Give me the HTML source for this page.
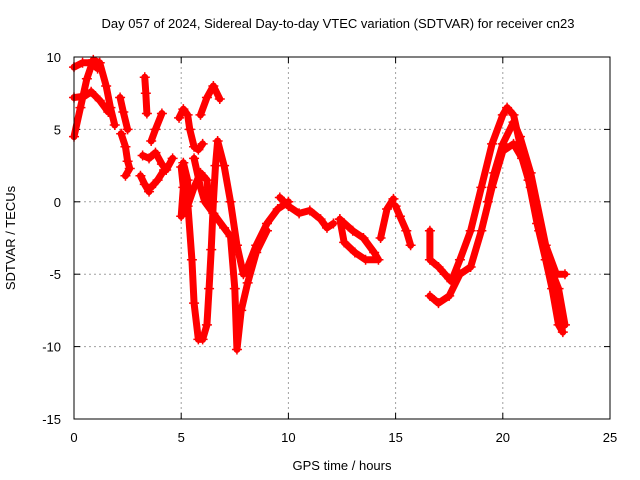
<!DOCTYPE html>
<html><head><meta charset="utf-8"><style>
body{margin:0;background:#fff}
svg{display:block;font-family:"Liberation Sans",sans-serif;font-size:13px}
</style></head><body>
<svg id="chart" width="640" height="480" xmlns="http://www.w3.org/2000/svg">
<text x="338" y="28" text-anchor="middle">Day 057 of 2024, Sidereal Day-to-day VTEC variation (SDTVAR) for receiver cn23</text>
<text x="342" y="470" text-anchor="middle">GPS time / hours</text>
<text transform="translate(15,238) rotate(-90)" text-anchor="middle">SDTVAR / TECUs</text>
<g id="grid"></g>
<g id="series"></g>
<rect x="74" y="57" width="536" height="362" fill="none" stroke="#000"/>
</svg>
<script>
const xTicks=[0,5,10,15,20,25];
const yTicks=[10,5,0,-5,-10,-15];
const traceA=[[0,4.5],[0.3,6.5],[0.6,8.5],[0.9,9.8],[1.2,9.6],[1.5,8],[1.7,6.5],[1.9,5.3]];
const traceB=[[0,7.2],[0.5,7.3],[0.8,7.6],[1.2,7],[1.6,6.2]];
const traceC=[[0,9.3],[0.4,9.6],[0.8,9.6],[1.1,9.2]];
const traceD=[[2.15,7.2],[2.3,6.2],[2.5,5]];
const traceE=[[2.2,4.7],[2.4,3.8],[2.5,2.8],[2.6,2.3],[2.4,1.8]];
const traceF=[[3.3,8.6],[3.35,7.5],[3.4,6.1]];
const traceG=[[3.6,4.2],[3.8,5],[4.1,6.1]];
const traceH=[[3.2,3.2],[3.5,3],[3.8,3.4],[4.1,2.6],[4.3,2.2],[4.6,3]];
const traceI=[[3.1,1.8],[3.3,1.2],[3.5,0.7]];
const traceJ=[[3.6,1],[3.9,1.5],[4.2,2.2]];
const traceK=[[4.9,5.8],[5.1,6.4],[5.3,6],[5.4,5],[5.6,3.8],[5.8,3.6],[6.0,4.0]];
const traceL=[[5.9,6.0],[6.2,7.2],[6.5,8.0],[6.8,7.1]];
const traceM=[[5.0,2.4],[5.1,1],[5.0,-1],[5.3,-0.3],[5.6,1],[5.9,2],[6.2,1.5],[6.3,0]];
const traceN=[[5.1,2.7],[5.3,1.5],[5.3,0],[5.5,-4],[5.6,-7],[5.8,-9.5],[6.0,-9.5],[6.2,-8.5],[6.3,-6],[6.4,-3.3],[6.5,0],[6.6,2.5],[6.7,4.2],[7.0,2.5],[7.3,0],[7.6,-3],[7.9,-5],[8.1,-4.5],[8.5,-3],[9,-1.5],[9.5,-0.5],[10,0]];
const traceO=[[5.6,3],[5.9,1],[6.1,0],[6.5,-0.8],[7,-1.8],[7.3,-2.4],[7.5,-6],[7.6,-10.2],[7.8,-7.5],[8.1,-5.6],[8.5,-3.5],[9,-2]];
const traceP=[[9.6,0.3],[10,-0.3],[10.5,-0.8],[11,-0.6],[11.5,-1.2],[11.8,-1.8],[12.1,-1.5]];
const traceQ=[[12.4,-1.2],[13,-2],[13.5,-2.5],[14,-3.5],[14.2,-4],[13.6,-4],[13.1,-3.5],[12.6,-2.8],[12.4,-1.2]];
const traceR=[[14.3,-2.5],[14.6,-0.5],[14.9,0.2]];
const traceS=[[15,-0.3],[15.2,-1],[15.5,-2],[15.7,-3]];
const traceT=[[16.6,-2],[16.6,-4],[17,-4.5],[17.3,-5],[17.6,-5.5],[18,-4],[18.5,-2],[19,1],[19.5,4],[20,6],[20.2,6.5],[20.5,6],[20.8,4],[21.2,1.5],[21.6,-1.5],[22,-4],[22.3,-6],[22.6,-8.5],[22.8,-9]];
const traceU=[[16.6,-6.5],[17,-7],[17.5,-6.5],[18,-5],[18.5,-4.5],[19,-2],[19.5,1],[20,3.5],[20.5,4],[20.9,3],[21.3,1],[21.7,-2],[22.2,-4.5],[22.6,-6],[22.9,-8.5]];
const traceV=[[19.3,0],[19.6,2],[20,4],[20.5,5.5],[20.8,4.5],[21.3,2],[22,-3],[22.5,-5],[22.9,-5]];
const allTraces=[traceA,traceB,traceC,traceD,traceE,traceF,traceG,traceH,traceI,traceJ,traceK,traceL,traceM,traceN,traceO,traceP,traceQ,traceR,traceS,traceT,traceU,traceV];
const X0=74,X1=610,Y0=419,Y1=57;
function sx(v){return X0+(v-0)/(25-0)*(X1-X0);}
function sy(v){return Y0-(v+15)/(10+15)*(Y0-Y1);}
const NS='http://www.w3.org/2000/svg';
const svg=document.getElementById('chart'),grid=document.getElementById('grid'),ser=document.getElementById('series');
function mk(t,a,p){const e=document.createElementNS(NS,t);for(const k in a)e.setAttribute(k,a[k]);p.appendChild(e);return e;}
xTicks.forEach(t=>{const x=sx(t);
 if(t>0&&t<25){const l=mk('line',{x1:x,x2:x,y1:Y1,y2:Y0,stroke:'#a0a0a0','stroke-dasharray':'2,3'},grid);
 
 }
 mk('line',{x1:x,x2:x,y1:Y0,y2:Y0-6,stroke:'#000'},grid);
 mk('line',{x1:x,x2:x,y1:Y1,y2:Y1+6,stroke:'#000'},grid);
 const tx=mk('text',{x:x,y:Y0+23,'text-anchor':'middle'},svg);tx.textContent=t;
 
 });
yTicks.forEach(t=>{const y=sy(t);
 if(t>-15&&t<10){const l=mk('line',{x1:X0,x2:X1,y1:y,y2:y,stroke:'#a0a0a0','stroke-dasharray':'2,3'},grid);
 
 }
 mk('line',{x1:X0,x2:X0+6,y1:y,y2:y,stroke:'#000'},grid);
 mk('line',{x1:X1,x2:X1-6,y1:y,y2:y,stroke:'#000'},grid);
 const tx=mk('text',{x:X0-13,y:y+5,'text-anchor':'end'},svg);tx.textContent=t;
 
 });
allTraces.forEach(tr=>{
 const pl=mk('polyline',{points:tr.map(p=>sx(p[0])+','+sy(p[1])).join(' '),fill:'none',stroke:'#ff0000','stroke-width':7,'stroke-linejoin':'round','stroke-linecap':'round'},ser);
 
 
 tr.forEach(p=>{const x=sx(p[0]),y=sy(p[1]);
  const m=mk('path',{d:`M${x-5},${y}h10M${x},${y-5}v10`,stroke:'#ff0000','stroke-width':1.5},ser);
  
  });
});
</script>
</body></html>
